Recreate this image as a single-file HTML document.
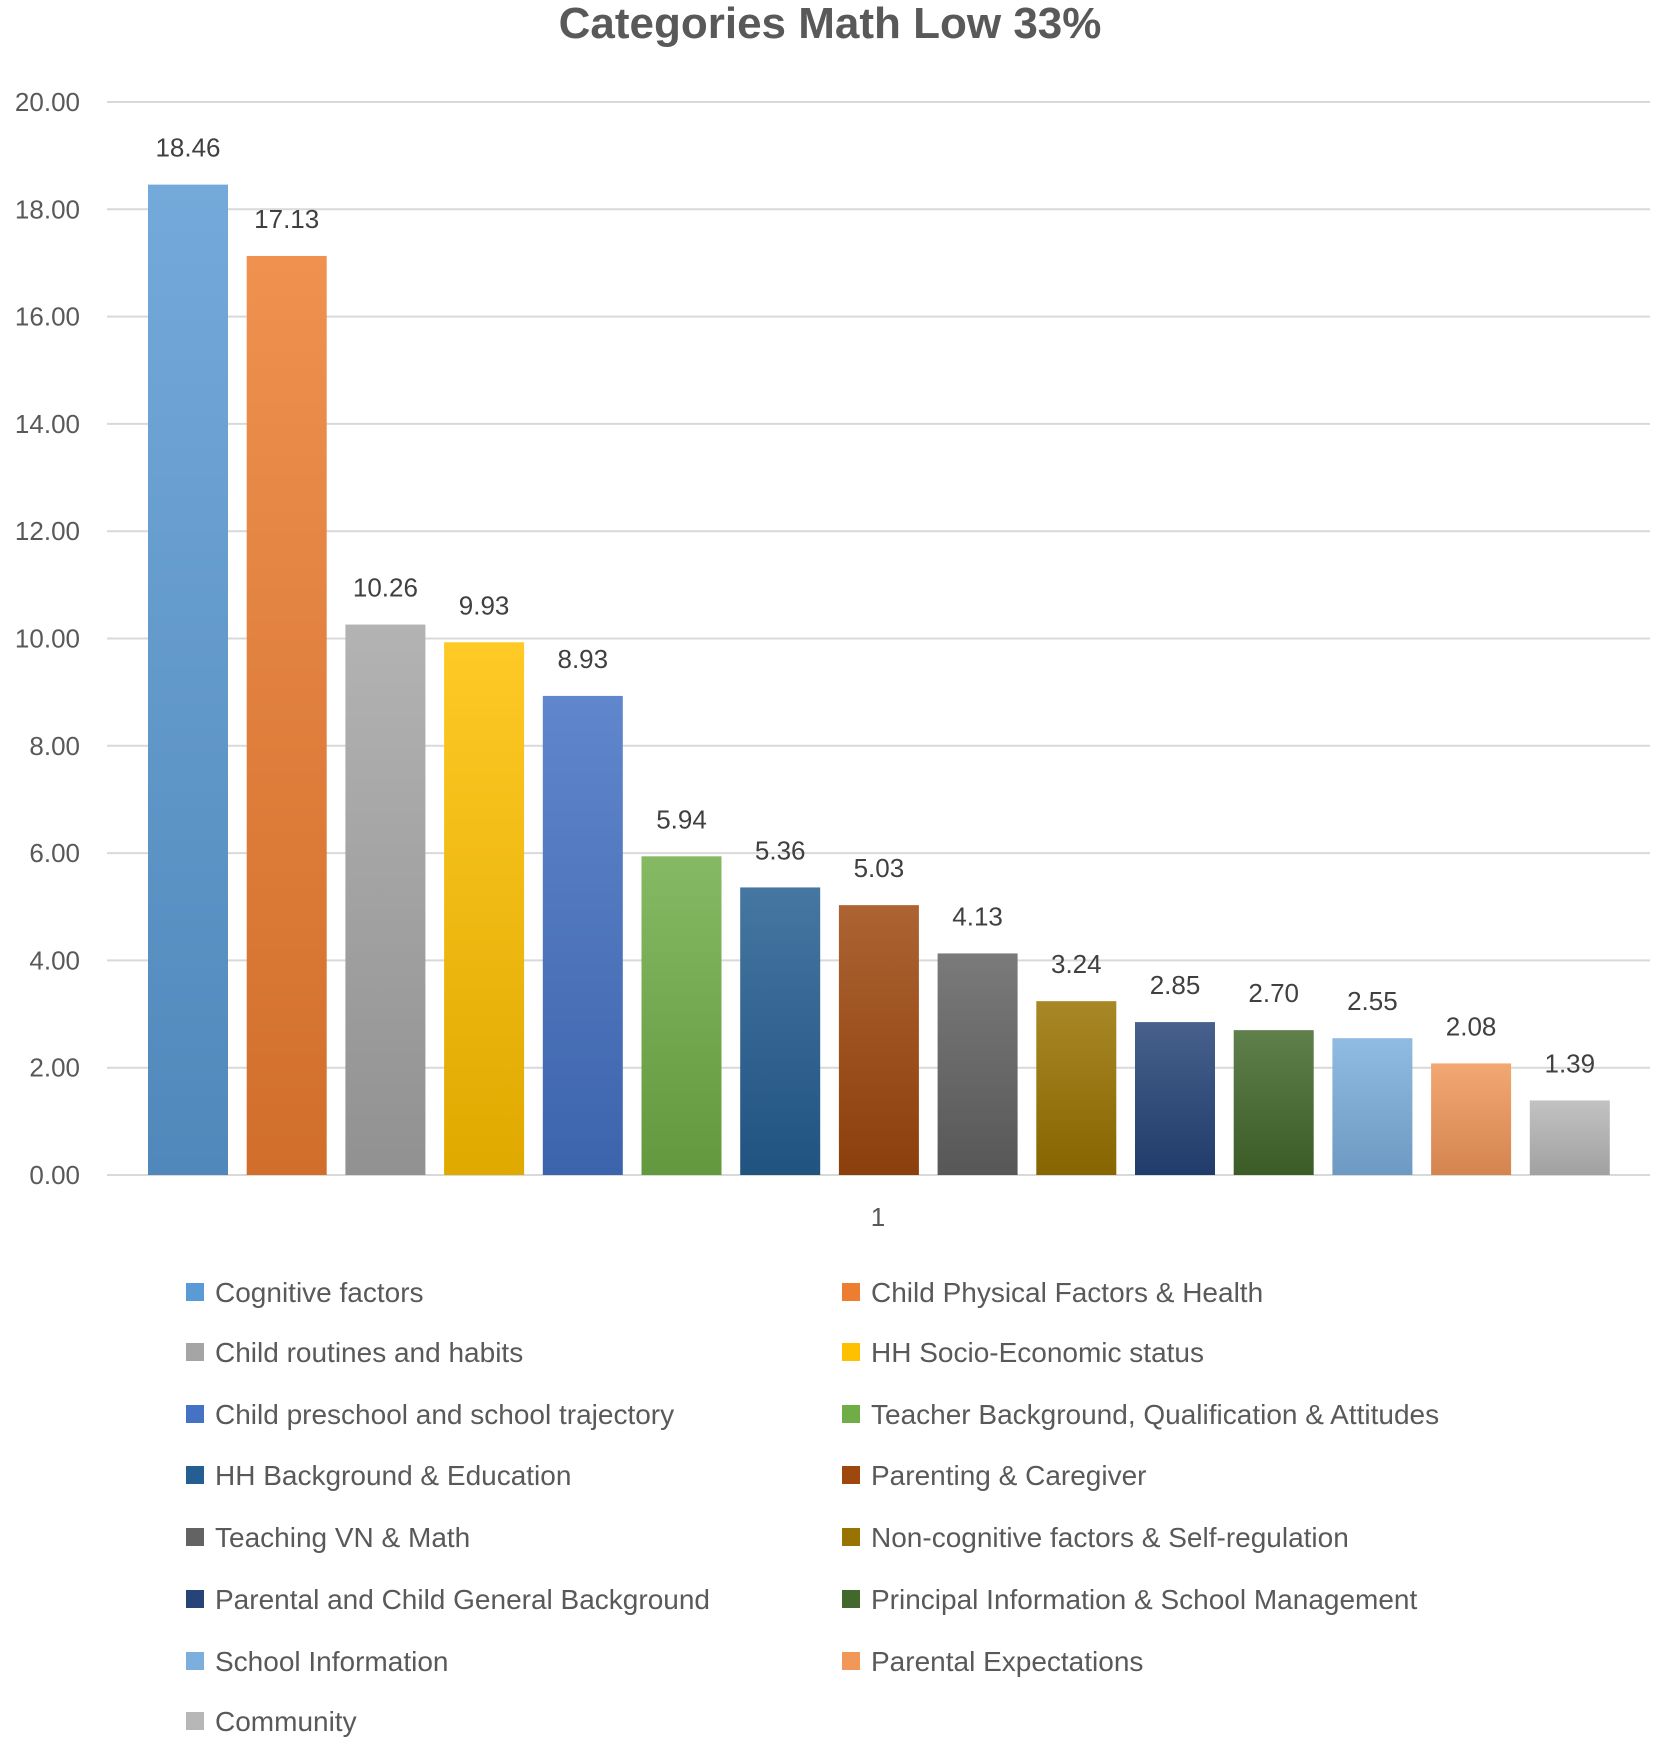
<!DOCTYPE html>
<html><head><meta charset="utf-8">
<style>
html,body{margin:0;padding:0;background:#fff;}
svg{display:block;font-family:"Liberation Sans",sans-serif;}
</style></head><body>
<svg id="chart" width="1654" height="1742" viewBox="0 0 1654 1742" xmlns="http://www.w3.org/2000/svg">
<defs id="defs"></defs>
<text x="830" y="38" text-anchor="middle" font-size="44" font-weight="bold" fill="#595959">Categories Math Low 33%</text>
<g id="grid"></g><g id="bars"></g><g id="legend"></g>
<text x="878" y="1226" text-anchor="middle" font-size="26" fill="#595959">1</text>
</svg>
<script>
const categories = ["Cognitive factors","Child Physical Factors & Health","Child routines and habits","HH Socio-Economic status","Child preschool and school trajectory","Teacher Background, Qualification & Attitudes","HH Background & Education","Parenting & Caregiver","Teaching VN & Math","Non-cognitive factors & Self-regulation","Parental and Child General Background","Principal Information & School Management","School Information","Parental Expectations","Community"];
const values = [18.46,17.13,10.26,9.93,8.93,5.94,5.36,5.03,4.13,3.24,2.85,2.70,2.55,2.08,1.39];
const tickValues = [0,2,4,6,8,10,12,14,16,18,20];
const colors = ["#5B9BD5","#ED7D31","#A5A5A5","#FFC000","#4472C4","#70AD47","#255E91","#9E480E","#636363","#997300","#264478","#43682B","#7CAFDD","#F1975A","#B7B7B7"];

const NS="http://www.w3.org/2000/svg";
const x0=107,x1=1650,y0=1175,y20=102;
function yScale(v){return y0-(v/20)*(y0-y20);}
function xScale(i){return 148+i*98.7;}
const barW=80;
function mk(t,a,p){const e=document.createElementNS(NS,t);for(const k in a)e.setAttribute(k,a[k]);p.appendChild(e);return e;}
const grid=document.getElementById('grid'),bars=document.getElementById('bars'),leg=document.getElementById('legend'),defs=document.getElementById('defs');
tickValues.forEach(v=>{
  const l=mk('line',{x1:x0,x2:x1,y1:yScale(v),y2:yScale(v),stroke:'#d9d9d9','stroke-width':2},grid);
  
  
  const t=mk('text',{x:80,y:yScale(v)+9,'text-anchor':'end','font-size':26,fill:'#595959'},grid);
  t.textContent=v.toFixed(2);
  
  
});
function shade(hex,f){let n=parseInt(hex.slice(1),16);let r=n>>16,g=(n>>8)&255,b=n&255;const c=x=>Math.max(0,Math.min(255,Math.round(f>0?x+(255-x)*f:x*(1+f))));return `rgb(${c(r)},${c(g)},${c(b)})`;}
values.forEach((v,i)=>{
  const gid='g'+i;
  const g=mk('linearGradient',{id:gid,x1:0,y1:0,x2:0,y2:1},defs);
  mk('stop',{offset:'0','stop-color':shade(colors[i],0.15)},g);
  mk('stop',{offset:'1','stop-color':shade(colors[i],-0.12)},g);
  const r=mk('rect',{x:xScale(i),y:yScale(v),width:barW,height:y0-yScale(v),fill:`url(#${gid})`},bars);
  
  
  const t=mk('text',{x:xScale(i)+barW/2,y:yScale(v)-28,'text-anchor':'middle','font-size':26,fill:'#404040'},bars);
  t.textContent=v.toFixed(2);
  
  
});
const rowYs=[1292,1352,1414,1475,1537,1599,1661,1721];
categories.forEach((c,i)=>{
  const col=i%2,row=Math.floor(i/2);
  const sx=col?842:186, cy=rowYs[row];
  const g=mk('g',{},leg);
  
  
  mk('rect',{x:sx,y:cy-9,width:18,height:18,fill:colors[i]},g);
  const t=mk('text',{x:sx+29,y:cy+10,'font-size':28,fill:'#595959'},g);
  t.textContent=c;
});
</script>
</body></html>
